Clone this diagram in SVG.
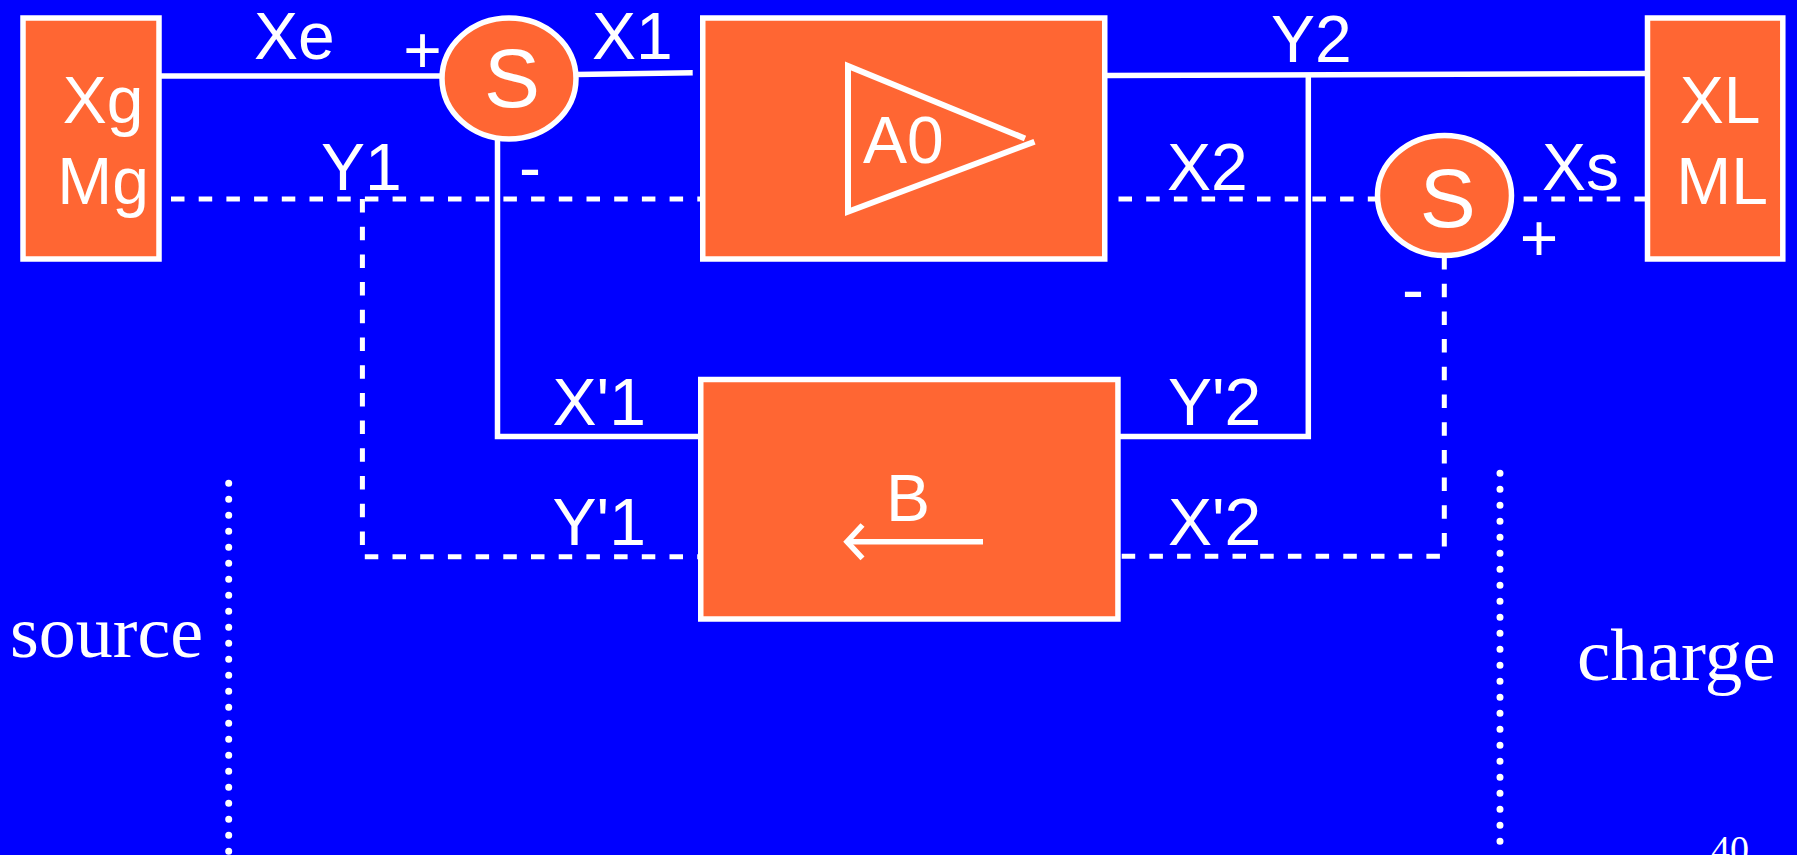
<svg xmlns="http://www.w3.org/2000/svg" width="1797" height="855" viewBox="0 0 1797 855">
  <style>
    .box { fill: #FF6633; stroke: #FFFFFF; stroke-width: 5.5; }
    .wire { fill: none; stroke: #FFFFFF; stroke-width: 5.5; }
    .dash { fill: none; stroke: #FFFFFF; stroke-width: 5; stroke-dasharray: 13.5 14.2; }
    .dots { fill: none; stroke: #FFFFFF; stroke-width: 7; stroke-dasharray: 0 16; stroke-linecap: round; }
    .lbl { fill: #FFFFFF; font-family: "Liberation Sans", Arial, sans-serif; font-size: 66px; }
    .big { fill: #FFFFFF; font-family: "Liberation Sans", Arial, sans-serif; font-size: 84px; }
    .serif { fill: #FFFFFF; font-family: "Liberation Serif", "Times New Roman", serif; }
  </style>
  <rect x="0" y="0" width="1797" height="855" fill="#0000FF"/>

  <g id="connectors">
    <line class="wire" x1="161" y1="76" x2="442" y2="76"/>
    <line class="wire" x1="576" y1="74.5" x2="692.7" y2="72.7"/>
    <polyline class="wire" points="497.5,140 497.5,436.5 699,436.5"/>
    <line class="wire" x1="1107" y1="75.5" x2="1645" y2="73.5"/>
    <polyline class="wire" points="1308.3,75 1308.3,436.5 1120,436.5"/>

    <line class="dash" x1="171" y1="199" x2="700" y2="199"/>
    <polyline class="dash" points="362.4,199 362.4,556.7 698,556.7"/>
    <line class="dash" x1="1118.5" y1="199" x2="1378" y2="199"/>
    <line class="dash" x1="1523.6" y1="199" x2="1645" y2="199"/>
    <polyline class="dash" points="1444.3,256 1444.3,556.3 1120,556.3"/>

    <line class="dots" x1="228.7" y1="483.3" x2="228.7" y2="870"/>
    <line class="dots" x1="1500" y1="473.3" x2="1500" y2="842"/>
  </g>

  <g id="source-box">
    <rect class="box" x="23" y="18" width="136" height="241"/>
    <text class="lbl" x="103" y="123" text-anchor="middle">Xg</text>
    <text class="lbl" x="103" y="204" text-anchor="middle">Mg</text>
  </g>

  <g id="sum1">
    <ellipse class="box" cx="509" cy="78.5" rx="67" ry="60.5"/>
    <text class="big" x="512" y="107" text-anchor="middle">S</text>
  </g>

  <g id="amplifier">
    <rect class="box" x="702.75" y="18" width="402" height="241"/>
    <polyline class="wire" style="stroke-width:6" points="1025,138.5 848,66 848,211.7 1034.5,141.7"/>
    <text class="lbl" x="863" y="163">A0</text>
  </g>

  <g id="sum2">
    <ellipse class="box" cx="1444.5" cy="195.5" rx="67" ry="60"/>
    <text class="big" x="1447.7" y="226.7" text-anchor="middle">S</text>
  </g>

  <g id="load-box">
    <rect class="box" x="1647.5" y="18" width="135.3" height="241"/>
    <text class="lbl" x="1720" y="123.3" text-anchor="middle">XL</text>
    <text class="lbl" x="1722" y="204" text-anchor="middle">ML</text>
  </g>

  <g id="feedback">
    <rect class="box" x="700.75" y="379.5" width="417.2" height="239.5"/>
    <text class="lbl" x="886" y="521">B</text>
    <line class="wire" x1="846" y1="541.7" x2="983" y2="541.7"/>
    <polyline class="wire" points="862.5,525 847,541.7 862.5,558.3"/>
  </g>

  <g id="labels">
    <text class="lbl" x="254" y="59">Xe</text>
    <text class="lbl" x="422.5" y="73" text-anchor="middle">+</text>
    <text class="lbl" x="592" y="58.5">X1</text>
    <text class="lbl" x="321" y="190">Y1</text>
    <text class="lbl" x="519" y="190">-</text>
    <text class="lbl" x="1271" y="61.7">Y2</text>
    <text class="lbl" x="1167" y="190">X2</text>
    <text class="lbl" x="1542" y="190">Xs</text>
    <text class="lbl" x="1539" y="260.5" text-anchor="middle">+</text>
    <text class="lbl" x="1402" y="312">-</text>
    <text class="lbl" x="552.6" y="425">X'1</text>
    <text class="lbl" x="552.6" y="545">Y'1</text>
    <text class="lbl" x="1168" y="425">Y'2</text>
    <text class="lbl" x="1168" y="545">X'2</text>
    <text class="serif" x="10" y="656.7" font-size="74">source</text>
    <text class="serif" x="1577" y="680" font-size="75">charge</text>
    <text class="serif" x="1711" y="862" font-size="38">40</text>
  </g>
</svg>
